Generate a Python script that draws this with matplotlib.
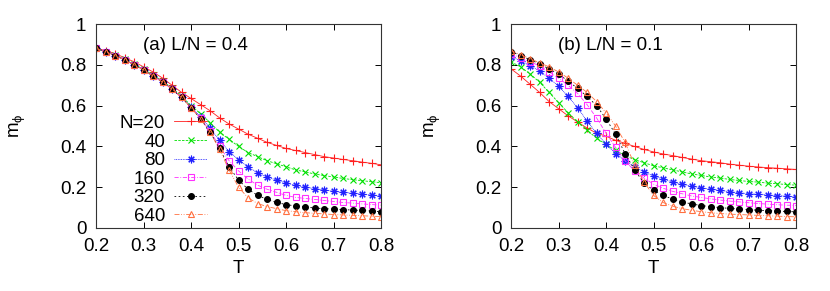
import numpy as np
import matplotlib
matplotlib.use("Agg")
import matplotlib.pyplot as plt

plt.rcParams['font.family'] = ['Liberation Sans', 'DejaVu Sans']
plt.rcParams['mathtext.fontset'] = 'custom'
plt.rcParams['mathtext.rm'] = 'Liberation Sans'
plt.rcParams['mathtext.it'] = 'Liberation Sans'

T = np.round(np.arange(0.20, 0.801, 0.02), 2)
sizes = ["20", "40", "80", "160", "320", "640"]

# panel (a) L/N = 0.4
a_n20 = [0.880, 0.870, 0.855, 0.835, 0.815, 0.790, 0.765, 0.735, 0.700, 0.665, 0.635,
         0.605, 0.575, 0.540, 0.510, 0.485, 0.460, 0.440, 0.420, 0.405, 0.390, 0.380,
         0.370, 0.360, 0.350, 0.343, 0.336, 0.330, 0.323, 0.317, 0.310]
a_n40 = [0.880, 0.865, 0.847, 0.827, 0.803, 0.778, 0.750, 0.720, 0.686, 0.647, 0.600,
         0.560, 0.517, 0.470, 0.435, 0.400, 0.370, 0.350, 0.330, 0.315, 0.300, 0.285,
         0.275, 0.265, 0.257, 0.250, 0.243, 0.237, 0.232, 0.227, 0.222]
a_n80 = [0.880, 0.865, 0.845, 0.825, 0.801, 0.776, 0.747, 0.716, 0.682, 0.642, 0.593,
         0.545, 0.490, 0.430, 0.375, 0.335, 0.300, 0.270, 0.250, 0.235, 0.220, 0.210,
         0.200, 0.193, 0.187, 0.180, 0.175, 0.170, 0.166, 0.162, 0.158]
a_n160 = [0.880, 0.865, 0.845, 0.825, 0.800, 0.775, 0.745, 0.715, 0.680, 0.640, 0.590,
          0.537, 0.475, 0.400, 0.330, 0.280, 0.240, 0.210, 0.190, 0.175, 0.160, 0.150,
          0.145, 0.140, 0.135, 0.130, 0.125, 0.122, 0.118, 0.115, 0.112]
a_n320 = [0.880, 0.865, 0.845, 0.825, 0.800, 0.775, 0.745, 0.715, 0.680, 0.640, 0.590,
          0.535, 0.470, 0.390, 0.300, 0.235, 0.190, 0.160, 0.140, 0.125, 0.115, 0.108,
          0.103, 0.098, 0.095, 0.092, 0.090, 0.088, 0.086, 0.083, 0.080]
a_n640 = [0.880, 0.865, 0.845, 0.825, 0.800, 0.775, 0.745, 0.715, 0.680, 0.640, 0.590,
          0.535, 0.470, 0.385, 0.285, 0.200, 0.148, 0.120, 0.105, 0.095, 0.085, 0.080,
          0.075, 0.072, 0.069, 0.066, 0.064, 0.062, 0.060, 0.058, 0.056]

# panel (b) L/N = 0.1
b_n20 = [0.780, 0.745, 0.705, 0.665, 0.620, 0.585, 0.550, 0.520, 0.490, 0.465, 0.450,
         0.430, 0.415, 0.400, 0.385, 0.373, 0.363, 0.355, 0.346, 0.338, 0.330, 0.325,
         0.320, 0.313, 0.308, 0.303, 0.299, 0.296, 0.293, 0.290, 0.287]
b_n40 = [0.815, 0.790, 0.755, 0.715, 0.665, 0.615, 0.565, 0.520, 0.480, 0.440, 0.410,
         0.380, 0.355, 0.335, 0.320, 0.305, 0.295, 0.285, 0.275, 0.265, 0.258, 0.250,
         0.245, 0.238, 0.233, 0.228, 0.225, 0.220, 0.217, 0.213, 0.210]
b_n80 = [0.840, 0.820, 0.795, 0.770, 0.735, 0.695, 0.645, 0.590, 0.525, 0.465, 0.410,
         0.365, 0.330, 0.300, 0.275, 0.255, 0.240, 0.225, 0.215, 0.205, 0.197, 0.190,
         0.184, 0.178, 0.173, 0.168, 0.165, 0.162, 0.159, 0.156, 0.153]
b_n160 = [0.855, 0.835, 0.815, 0.795, 0.765, 0.735, 0.700, 0.660, 0.605, 0.540, 0.465,
          0.395, 0.330, 0.280, 0.245, 0.215, 0.195, 0.180, 0.168, 0.157, 0.150, 0.143,
          0.137, 0.132, 0.128, 0.124, 0.120, 0.117, 0.114, 0.112, 0.110]
b_n320 = [0.865, 0.845, 0.825, 0.805, 0.780, 0.755, 0.720, 0.685, 0.645, 0.600, 0.535,
          0.460, 0.365, 0.285, 0.220, 0.185, 0.160, 0.142, 0.128, 0.118, 0.110, 0.105,
          0.100, 0.096, 0.093, 0.090, 0.087, 0.085, 0.083, 0.081, 0.079]
b_n640 = [0.870, 0.850, 0.830, 0.810, 0.790, 0.765, 0.735, 0.700, 0.665, 0.620, 0.565,
          0.500, 0.420, 0.310, 0.225, 0.160, 0.125, 0.107, 0.095, 0.087, 0.080, 0.075,
          0.071, 0.068, 0.066, 0.064, 0.062, 0.060, 0.058, 0.056, 0.055]

panels = [
    ("(a) L/N = 0.4", [a_n20, a_n40, a_n80, a_n160, a_n320, a_n640]),
    ("(b) L/N = 0.1", [b_n20, b_n40, b_n80, b_n160, b_n320, b_n640]),
]

styles = [
    dict(color='#ff2020', ls='-', marker='+', mfc='#ff2020', ms=5.5),
    dict(color='#00e000', ls=(0, (3, 1.5)), marker='x', mfc='#00e000', ms=4.5),
    dict(color='#2020ff', ls=(0, (1, 1)), marker=(8, 2, 0), mfc='#2020ff', ms=5.5),
    dict(color='#ff30ff', ls=(0, (5, 2, 1, 2)), marker='s', mfc='none', ms=4.2),
    dict(color='#000000', ls=(0, (2, 3)), marker='o', mfc='#000000', ms=4.2),
    dict(color='#ff7040', ls=(0, (6, 2, 1, 2, 1, 2)), marker='^', mfc='none', ms=4.5),
]

FS = 13.5

fig = plt.figure(figsize=(8.3, 2.91), dpi=100)
ax_pos = [[0.1157, 0.2165, 0.3434, 0.701], [0.6157, 0.2165, 0.3434, 0.701]]

for i, (title, series) in enumerate(panels):
    ax = fig.add_axes(ax_pos[i])
    for k, ys in enumerate(series):
        st = styles[k]
        lab = "N=" + sizes[k] if k == 0 else sizes[k]
        ax.plot(T, ys, color=st['color'], ls=st['ls'], lw=0.6, marker=st['marker'],
                ms=st['ms'], mfc=st['mfc'], mec=st['color'], mew=0.8, label=lab)
    ax.set_xlim(0.2, 0.8)
    ax.set_ylim(0, 1)
    ax.set_xticks([0.2, 0.3, 0.4, 0.5, 0.6, 0.7, 0.8])
    ax.set_yticks([0, 0.2, 0.4, 0.6, 0.8, 1])
    ax.set_yticklabels(["0", "0.2", "0.4", "0.6", "0.8", "1"])
    ax.tick_params(direction='in', top=True, right=True, length=4, width=0.7,
                   labelsize=FS, pad=7)
    for s in ax.spines.values():
        s.set_linewidth(0.8)
        s.set_color('#333333')
    ax.set_xlabel("T", fontsize=FS)
    ax.xaxis.set_label_coords(0.5, -0.155)
    ax.set_ylabel(r"m$_\phi$", fontsize=FS)
    ax.yaxis.set_label_coords(-0.24, 0.5)
    ax.text(0.165, 0.895, title, transform=ax.transAxes, fontsize=FS, va='center', ha='left')
    if i == 0:
        ax.legend(loc='upper right', bbox_to_anchor=(0.39, 0.555), frameon=False,
                  markerfirst=False, fontsize=FS, handlelength=1.75, handletextpad=0.5,
                  labelspacing=0.08, borderpad=0, borderaxespad=0)

fig.savefig("out.png", dpi=100)
